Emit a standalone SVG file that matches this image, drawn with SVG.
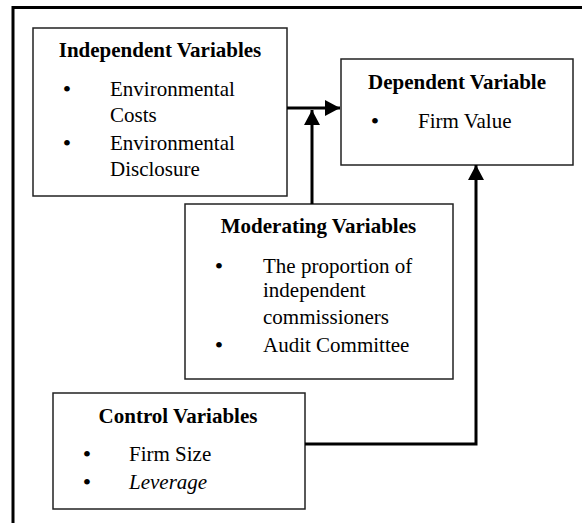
<svg xmlns="http://www.w3.org/2000/svg" width="582" height="523" viewBox="0 0 582 523">
<style>
.box{fill:#fff;stroke:#222;stroke-width:1.5}
.t{font-family:'Liberation Serif','Times New Roman',serif;font-size:21px;fill:#000}
.h{font-weight:bold;text-anchor:middle}
.b{text-anchor:middle;font-size:24px}
.c{fill:none;stroke:#000;stroke-width:3}
</style>
<defs>
<marker id="ah" markerUnits="userSpaceOnUse" markerWidth="16" markerHeight="16" refX="15" refY="8" orient="auto" viewBox="0 0 16 16">
<path d="M0,0 L15,8 L0,16 Z" fill="#000"/>
</marker>
</defs>
<rect width="582" height="523" fill="#fff"/>
<path d="M13,523 V7.5 H582" fill="none" stroke="#000" stroke-width="3"/>
<g id="independent">
<rect class="box" x="33" y="28" width="254" height="168"/>
<text class="t h" x="160" y="57">Independent Variables</text>
<text class="t b" x="67" y="97">•</text>
<text class="t" x="110" y="96">Environmental</text>
<text class="t" x="110" y="122">Costs</text>
<text class="t b" x="67" y="151">•</text>
<text class="t" x="110" y="150">Environmental</text>
<text class="t" x="110" y="176">Disclosure</text>
</g>
<g id="dependent">
<rect class="box" x="341" y="59" width="232" height="106"/>
<text class="t h" x="457" y="89">Dependent Variable</text>
<text class="t b" x="375" y="129">•</text>
<text class="t" x="418" y="128">Firm Value</text>
</g>
<g id="moderating">
<rect class="box" x="185" y="204" width="268" height="175"/>
<text class="t h" x="318.5" y="233">Moderating Variables</text>
<text class="t b" x="219" y="274">•</text>
<text class="t" x="263" y="273">The proportion of</text>
<text class="t" x="263" y="297">independent</text>
<text class="t" x="263" y="324">commissioners</text>
<text class="t b" x="219" y="353">•</text>
<text class="t" x="263" y="352">Audit Committee</text>
</g>
<g id="control">
<rect class="box" x="53" y="393" width="252" height="116"/>
<text class="t h" x="178" y="423">Control Variables</text>
<text class="t b" x="87" y="462">•</text>
<text class="t" x="129" y="461">Firm Size</text>
<text class="t b" x="87" y="490">•</text>
<text class="t" x="129" y="489" font-style="italic">Leverage</text>
</g>
<g id="connectors">
<path class="c" d="M287,108 H340" marker-end="url(#ah)"/>
<path class="c" d="M312,204 V110" marker-end="url(#ah)"/>
<path class="c" d="M305,444 H476 V165" marker-end="url(#ah)"/>
</g>
</svg>
